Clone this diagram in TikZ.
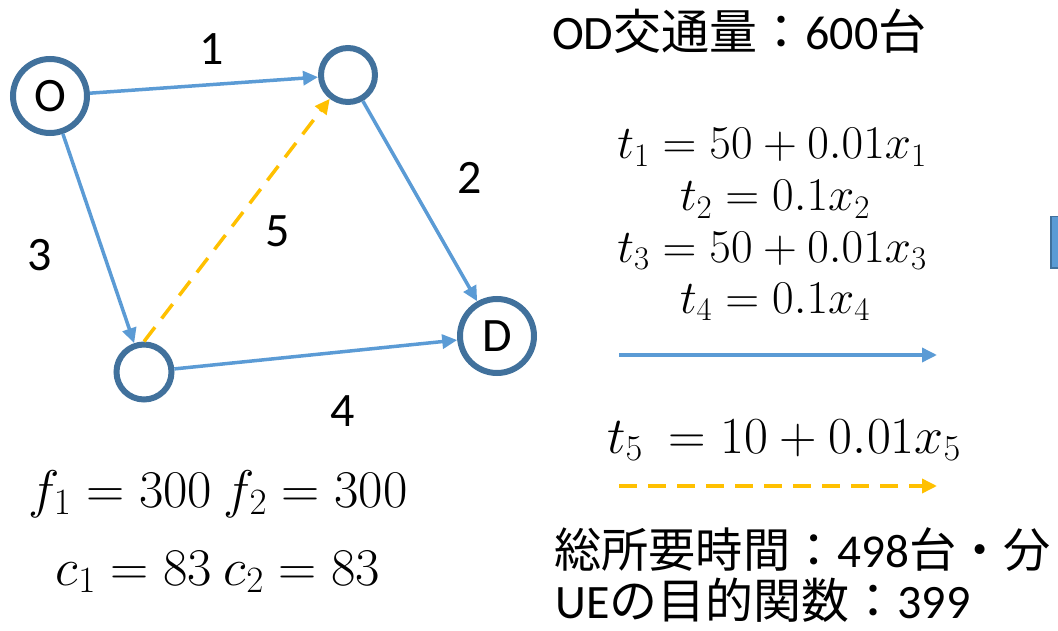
\RequirePackage{fix-cm}
\documentclass[tikz,border=0pt]{standalone}
\usepackage[no-math]{fontspec}
\setmainfont{Carlito}
\newfontfamily\cjk{Noto Sans CJK JP}
\usetikzlibrary{arrows.meta}
\definecolor{ndblue}{HTML}{41719C}
\definecolor{lnblue}{HTML}{5B9BD5}
\definecolor{orng}{HTML}{FFC000}
\newcommand\lblfont{\fontsize{48}{56}\selectfont}
\newcommand\txtfont{\fontsize{48}{56}\selectfont}
\newcommand\smtxtfont{\fontsize{47.2}{56}\selectfont}
\newcommand\mfont{\fontsize{47}{56}\selectfont}
\newcommand\bigmfont{\fontsize{52}{60}\selectfont}
\newcommand\fcfont{\fontsize{53}{60}\selectfont}
\begin{document}
\begin{tikzpicture}[x=1pt,y=-1pt,
  nd/.style={circle, draw=ndblue, line width=6pt, inner sep=0pt, outer sep=3pt, font=\lblfont},
  blueedge/.style={draw=lnblue, line width=3.5pt, -{Triangle[length=15pt,width=14pt]}},
  dashedge/.style={draw=orng, line width=3.5pt, dash pattern=on 18pt off 11pt, -{Triangle[length=15pt,width=14pt]}},
  lab/.style={anchor=base, font=\lblfont, inner sep=0pt},
  txt/.style={anchor=base west, font=\txtfont, inner sep=0pt},
  eq/.style={anchor=base, font=\mfont, inner sep=0pt},
]
\useasboundingbox (0,0) rectangle (1058,631);
\clip (0,0) rectangle (1058,631);

% nodes
\node[nd, minimum size=74pt] (O) at (50,96) {O};
\node[nd, minimum size=54pt] (T) at (348,75) {};
\node[nd, minimum size=55pt] (B) at (144,372) {};
\node[nd, minimum size=74pt] (D) at (497,336) {D};

% edges
\draw[blueedge] (O) -- (T);
\draw[blueedge] (O) -- (B);
\draw[blueedge] (T) -- (D);
\draw[blueedge] (B) -- (D);
\draw[dashedge] (B.north) -- (T);

% edge labels
\node[lab] (l1) at (212,65) {1};
\node[lab] (l2) at (470,194) {2};
\node[lab] (l3) at (40,270) {3};
\node[lab] (l4) at (343,426) {4};
\node[lab] (l5) at (278,247) {5};

% texts
\node[txt] (od) at (552,50) {OD{\cjk 交通量：}600{\cjk 台}};
\node[txt, font=\smtxtfont] (tot) at (554,567) {{\cjk 総所要時間：}498{\cjk 台・分}};
\node[txt] (ue) at (555,618) {UE{\cjk の目的関数：}399};

% equations
\node[eq] (e1) at (772,159) {$t_1 = 50 + 0.01x_1$};
\node[eq] (e2) at (775,211) {$t_2 = 0.1x_2$};
\node[eq] (e3) at (772,262) {$t_3 = 50 + 0.01x_3$};
\node[eq] (e4) at (775,313) {$t_4 = 0.1x_4$};
\node[eq, font=\bigmfont] (e5) at (784,453) {$t_5\ = 10 + 0.01x_5$};
\node[eq, font=\fcfont] (f) at (218,507) {$f_1 = 300\ f_2 = 300$};
\node[eq, font=\fcfont] (c) at (218,585) {$c_1 = 83\ c_2 = 83$};

% legend arrows
\coordinate (a1s) at (619,355);
\coordinate (a1e) at (937,355);
\coordinate (a2s) at (619,486);
\coordinate (a2e) at (937,486);
\draw[blueedge] (a1s) -- (a1e);
\draw[dashedge] (a2s) -- (a2e);

% partial box at right edge
\filldraw[fill=lnblue, draw=ndblue, line width=1.5pt] (1050.75,216.75) rectangle (1070,268);
\end{tikzpicture}
\end{document}
